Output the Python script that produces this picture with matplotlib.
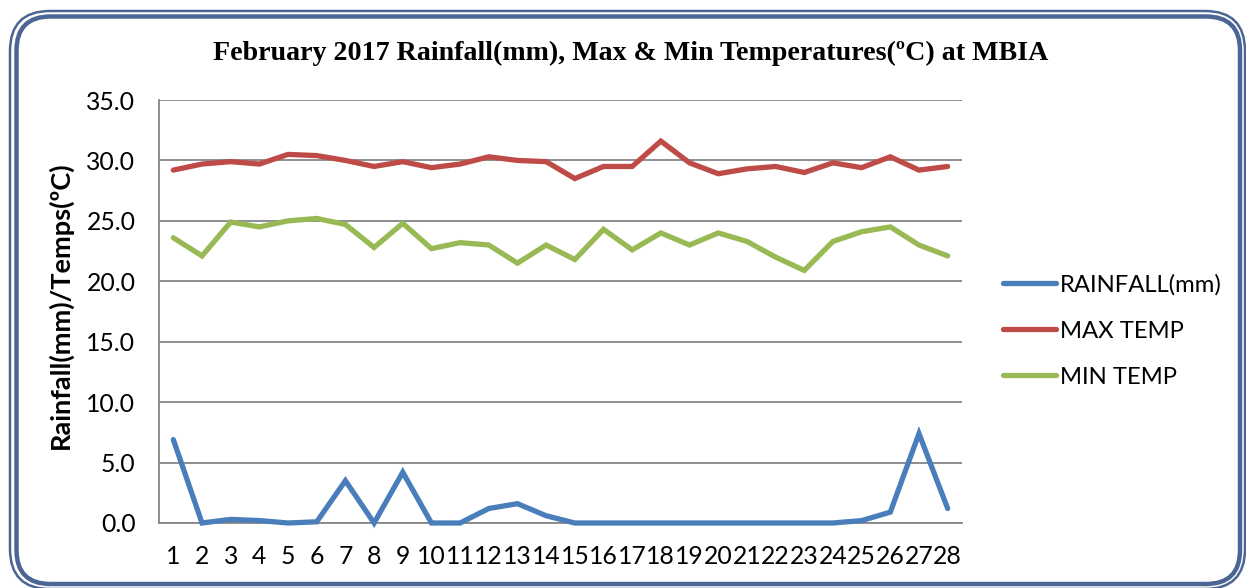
import numpy as np
import matplotlib
matplotlib.use("Agg")
import matplotlib.pyplot as plt
from matplotlib.patches import FancyBboxPatch

# Daily values, February 2017
days = list(range(1, 29))
rainfall = [6.9, 0.0, 0.3, 0.2, 0.0, 0.1, 3.5, 0.0, 4.2, 0.0, 0.0, 1.2, 1.6, 0.6,
            0.0, 0.0, 0.0, 0.0, 0.0, 0.0, 0.0, 0.0, 0.0, 0.0, 0.2, 0.9, 7.4, 1.2]
max_temp = [29.2, 29.7, 29.9, 29.7, 30.5, 30.4, 30.0, 29.5, 29.9, 29.4, 29.7, 30.3, 30.0, 29.9,
            28.5, 29.5, 29.5, 31.6, 29.8, 28.9, 29.3, 29.5, 29.0, 29.8, 29.4, 30.3, 29.2, 29.5]
min_temp = [23.6, 22.1, 24.9, 24.5, 25.0, 25.2, 24.7, 22.8, 24.8, 22.7, 23.2, 23.0, 21.5, 23.0,
            21.8, 24.3, 22.6, 24.0, 23.0, 24.0, 23.3, 22.0, 20.9, 23.3, 24.1, 24.5, 23.0, 22.1]
series_names = ["RAINFALL(mm)", "MAX TEMP", "MIN TEMP"]
series_colors = ["#4A7EBB", "#BE4B48", "#98B954"]
y_ticks = [0, 5, 10, 15, 20, 25, 30, 35]

TICK_FONT = "Lato"
GRID = "#868686"
FRAME = "#4B6594"

fig = plt.figure(figsize=(12.46, 5.88), dpi=100)
fig.patch.set_facecolor("white")

# double rounded frame round the whole chart (pixel coords, y down)
W, H = 1246, 588
def frame(x0, y0, x1, y1, lw, rad):
    p = FancyBboxPatch((x0 / W, 1 - y1 / H), (x1 - x0) / W, (y1 - y0) / H,
                       boxstyle=f"round,pad=0,rounding_size={rad / W}",
                       transform=fig.transFigure, fill=False, edgecolor=FRAME,
                       linewidth=lw, mutation_aspect=W / H)
    fig.patches.append(p)

frame(10, 11, 1245, 589, 1.8, 40)
frame(16.5, 16.5, 1240, 584, 3.2, 34)

ax = fig.add_axes([159 / W, 1 - 523 / H, (962 - 159) / W, (523 - 100) / H])
for vals, name, col in zip([rainfall, max_temp, min_temp], series_names, series_colors):
    ax.plot(days, vals, color=col, lw=3.8, label=name, clip_on=False,
            solid_capstyle="round", solid_joinstyle="miter", zorder=3)

ax.set_xlim(0.5, 28.5)
ax.set_ylim(0, 35)
ax.set_yticks(y_ticks)
ax.set_yticklabels([f"{v:.1f}" for v in y_ticks])
ax.set_xticks(days)
ax.set_xticklabels([str(d) for d in days])
ax.tick_params(axis="both", length=0, labelsize=17.8, colors="black")
ax.tick_params(axis="y", pad=17)
ax.tick_params(axis="x", pad=16)
for lab in ax.get_xticklabels() + ax.get_yticklabels():
    lab.set_fontfamily(TICK_FONT)

ax.grid(axis="y", color=GRID, lw=1.3)
ax.set_axisbelow(True)
for s in ["top", "right"]:
    ax.spines[s].set_visible(False)
ax.spines["left"].set_color(GRID)
ax.spines["bottom"].set_color(GRID)
ax.spines["left"].set_linewidth(1.3)
ax.spines["bottom"].set_linewidth(1.3)

fig.text(631 / W, 1 - 53 / H,
         "February 2017 Rainfall(mm), Max & Min Temperatures(ºC) at MBIA",
         ha="center", va="center", fontsize=20.2, fontweight="bold",
         family="Liberation Serif")
fig.text(60 / W, 1 - 305 / H, "Rainfall(mm)/Temps(ºC)", rotation=90,
         ha="center", va="center", fontsize=19.5, fontweight="bold", family=TICK_FONT)

leg = fig.legend(loc="center left", bbox_to_anchor=(981 / W, 1 - 331 / H),
                 frameon=False, handlelength=2.26, handletextpad=0.13,
                 labelspacing=1.05, prop={"family": TICK_FONT, "size": 17.2})

plt.savefig("out.png", dpi=100, facecolor="white")
